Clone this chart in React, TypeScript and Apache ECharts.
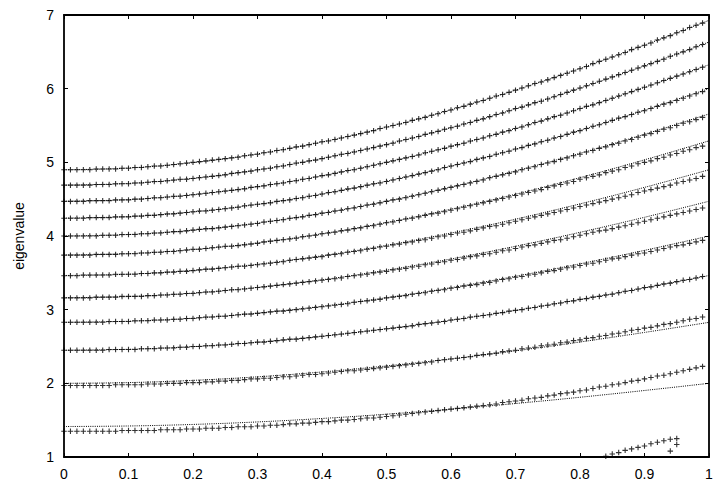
import React, { useEffect, useRef } from "react";
import * as echarts from "echarts";

// x positions of the numerical points (pluses)
const PLUS_X = [
  0, 0.01, 0.02, 0.03, 0.04, 0.05, 0.06, 0.07, 0.08, 0.09,
  0.1, 0.11, 0.12, 0.13, 0.14, 0.15, 0.16, 0.17, 0.18, 0.19,
  0.2, 0.21, 0.22, 0.23, 0.24, 0.25, 0.26, 0.27, 0.28, 0.29,
  0.3, 0.31, 0.32, 0.33, 0.34, 0.35, 0.36, 0.37, 0.38, 0.39,
  0.4, 0.41, 0.42, 0.43, 0.44, 0.45, 0.46, 0.47, 0.48, 0.49,
  0.5, 0.51, 0.52, 0.53, 0.54, 0.55, 0.56, 0.57, 0.58, 0.59,
  0.6, 0.61, 0.62, 0.63, 0.64, 0.65, 0.66, 0.67, 0.68, 0.69,
  0.7, 0.71, 0.72, 0.73, 0.74, 0.75, 0.76, 0.77, 0.78, 0.79,
  0.8, 0.81, 0.82, 0.83, 0.84, 0.85, 0.86, 0.87, 0.88, 0.89,
  0.9, 0.91, 0.92, 0.93, 0.94, 0.95, 0.96, 0.97, 0.98, 0.99,
];

const PLUS_1 = [
  1.35,1.35,1.35,1.35,1.35,1.35,1.35,1.35,1.35,1.36,
  1.36,1.36,1.36,1.36,1.36,1.37,1.37,1.37,1.37,1.38,
  1.38,1.38,1.39,1.39,1.39,1.40,1.40,1.41,1.41,1.41,
  1.42,1.42,1.43,1.43,1.44,1.45,1.45,1.46,1.46,1.47,
  1.48,1.48,1.49,1.50,1.50,1.51,1.52,1.53,1.53,1.54,
  1.55,1.56,1.57,1.58,1.59,1.60,1.61,1.62,1.63,1.64,
  1.65,1.66,1.67,1.68,1.69,1.70,1.71,1.72,1.74,1.75,
  1.76,1.77,1.79,1.80,1.81,1.83,1.84,1.86,1.87,1.88,
  1.90,1.91,1.93,1.95,1.96,1.98,1.99,2.01,2.03,2.04,
  2.06,2.08,2.10,2.11,2.13,2.15,2.17,2.19,2.21,2.23,
];
const PLUS_2 = [
  1.97,1.97,1.97,1.97,1.97,1.97,1.97,1.97,1.98,1.98,
  1.98,1.98,1.98,1.99,1.99,1.99,2.00,2.00,2.00,2.01,
  2.01,2.01,2.02,2.02,2.03,2.03,2.04,2.04,2.05,2.06,
  2.06,2.07,2.07,2.08,2.09,2.09,2.10,2.11,2.12,2.12,
  2.13,2.14,2.15,2.16,2.17,2.17,2.18,2.19,2.20,2.21,
  2.22,2.23,2.24,2.25,2.26,2.27,2.28,2.29,2.31,2.32,
  2.33,2.34,2.35,2.36,2.38,2.39,2.40,2.41,2.43,2.44,
  2.45,2.47,2.48,2.49,2.51,2.52,2.53,2.55,2.56,2.58,
  2.59,2.61,2.62,2.64,2.65,2.67,2.68,2.70,2.72,2.73,
  2.75,2.76,2.78,2.80,2.81,2.83,2.85,2.87,2.88,2.90,
];
const PLUS_3 = [
  2.45,2.45,2.45,2.45,2.45,2.45,2.45,2.46,2.46,2.46,
  2.46,2.46,2.47,2.47,2.47,2.48,2.48,2.48,2.49,2.49,
  2.50,2.50,2.51,2.51,2.52,2.52,2.53,2.54,2.54,2.55,
  2.56,2.56,2.57,2.58,2.59,2.60,2.60,2.61,2.62,2.63,
  2.64,2.65,2.66,2.67,2.68,2.69,2.70,2.71,2.72,2.73,
  2.74,2.75,2.76,2.77,2.78,2.80,2.81,2.82,2.83,2.84,
  2.86,2.87,2.88,2.90,2.91,2.92,2.93,2.95,2.96,2.98,
  2.99,3.00,3.02,3.03,3.05,3.06,3.08,3.09,3.11,3.12,
  3.14,3.15,3.17,3.18,3.20,3.21,3.23,3.25,3.26,3.28,
  3.30,3.31,3.33,3.35,3.36,3.38,3.40,3.41,3.43,3.45,
];
const PLUS_4 = [
  2.83,2.83,2.83,2.83,2.83,2.83,2.83,2.84,2.84,2.84,
  2.84,2.85,2.85,2.85,2.86,2.86,2.86,2.87,2.87,2.88,
  2.88,2.89,2.90,2.90,2.91,2.91,2.92,2.93,2.94,2.94,
  2.95,2.96,2.97,2.98,2.98,2.99,3.00,3.01,3.02,3.03,
  3.04,3.05,3.06,3.07,3.08,3.10,3.11,3.12,3.13,3.14,
  3.16,3.17,3.18,3.19,3.21,3.22,3.23,3.25,3.26,3.27,
  3.29,3.30,3.32,3.33,3.34,3.36,3.37,3.39,3.41,3.42,
  3.44,3.45,3.47,3.48,3.50,3.52,3.53,3.55,3.57,3.58,
  3.60,3.62,3.63,3.65,3.67,3.69,3.70,3.72,3.74,3.76,
  3.77,3.79,3.81,3.83,3.85,3.87,3.88,3.90,3.92,3.94,
];
const PLUS_5 = [
  3.16,3.16,3.16,3.16,3.16,3.17,3.17,3.17,3.17,3.18,
  3.18,3.18,3.18,3.19,3.19,3.20,3.20,3.21,3.21,3.22,
  3.22,3.23,3.24,3.24,3.25,3.26,3.27,3.27,3.28,3.29,
  3.30,3.31,3.32,3.33,3.34,3.35,3.36,3.37,3.38,3.39,
  3.40,3.41,3.42,3.43,3.45,3.46,3.47,3.48,3.50,3.51,
  3.52,3.54,3.55,3.56,3.58,3.59,3.61,3.62,3.64,3.65,
  3.67,3.68,3.70,3.72,3.73,3.75,3.76,3.78,3.80,3.81,
  3.83,3.85,3.87,3.88,3.90,3.92,3.94,3.95,3.97,3.99,
  4.01,4.03,4.05,4.07,4.08,4.10,4.12,4.14,4.16,4.18,
  4.20,4.22,4.24,4.26,4.28,4.30,4.32,4.34,4.36,4.38,
];
const PLUS_6 = [
  3.46,3.46,3.46,3.47,3.47,3.47,3.47,3.47,3.48,3.48,
  3.48,3.48,3.49,3.49,3.50,3.50,3.51,3.51,3.52,3.52,
  3.53,3.54,3.55,3.55,3.56,3.57,3.58,3.59,3.59,3.60,
  3.61,3.62,3.63,3.64,3.65,3.67,3.68,3.69,3.70,3.71,
  3.72,3.74,3.75,3.76,3.78,3.79,3.80,3.82,3.83,3.85,
  3.86,3.88,3.89,3.91,3.92,3.94,3.95,3.97,3.99,4.00,
  4.02,4.04,4.05,4.07,4.09,4.11,4.13,4.14,4.16,4.18,
  4.20,4.22,4.24,4.26,4.28,4.30,4.32,4.34,4.36,4.38,
  4.40,4.42,4.44,4.46,4.48,4.50,4.52,4.54,4.56,4.59,
  4.61,4.63,4.65,4.67,4.69,4.72,4.74,4.76,4.78,4.81,
];
const PLUS_7 = [
  3.74,3.74,3.74,3.74,3.74,3.75,3.75,3.75,3.75,3.76,
  3.76,3.76,3.77,3.77,3.78,3.78,3.79,3.79,3.80,3.81,
  3.82,3.82,3.83,3.84,3.85,3.86,3.86,3.87,3.88,3.89,
  3.90,3.92,3.93,3.94,3.95,3.96,3.97,3.99,4.00,4.01,
  4.03,4.04,4.05,4.07,4.08,4.10,4.11,4.13,4.14,4.16,
  4.18,4.19,4.21,4.23,4.24,4.26,4.28,4.30,4.31,4.33,
  4.35,4.37,4.39,4.41,4.43,4.45,4.47,4.49,4.51,4.53,
  4.55,4.57,4.59,4.61,4.63,4.66,4.68,4.70,4.72,4.74,
  4.77,4.79,4.81,4.83,4.86,4.88,4.90,4.93,4.95,4.98,
  5.00,5.02,5.05,5.07,5.10,5.12,5.15,5.17,5.20,5.22,
];
const PLUS_8 = [
  4.00,4.00,4.00,4.00,4.00,4.00,4.01,4.01,4.01,4.02,
  4.02,4.02,4.03,4.03,4.04,4.04,4.05,4.06,4.06,4.07,
  4.08,4.09,4.10,4.10,4.11,4.12,4.13,4.14,4.15,4.16,
  4.17,4.19,4.20,4.21,4.22,4.24,4.25,4.26,4.28,4.29,
  4.31,4.32,4.34,4.35,4.37,4.38,4.40,4.42,4.43,4.45,
  4.47,4.49,4.50,4.52,4.54,4.56,4.58,4.60,4.62,4.64,
  4.66,4.68,4.70,4.72,4.74,4.76,4.79,4.81,4.83,4.85,
  4.87,4.90,4.92,4.94,4.97,4.99,5.01,5.04,5.06,5.09,
  5.11,5.14,5.16,5.19,5.21,5.24,5.26,5.29,5.31,5.34,
  5.37,5.39,5.42,5.45,5.47,5.50,5.53,5.55,5.58,5.61,
];
const PLUS_9 = [
  4.24,4.24,4.24,4.24,4.25,4.25,4.25,4.25,4.26,4.26,
  4.26,4.27,4.27,4.28,4.28,4.29,4.30,4.30,4.31,4.32,
  4.33,4.34,4.34,4.35,4.36,4.37,4.38,4.39,4.41,4.42,
  4.43,4.44,4.45,4.47,4.48,4.49,4.51,4.52,4.54,4.55,
  4.57,4.59,4.60,4.62,4.64,4.65,4.67,4.69,4.71,4.72,
  4.74,4.76,4.78,4.80,4.82,4.84,4.86,4.88,4.90,4.93,
  4.95,4.97,4.99,5.01,5.04,5.06,5.08,5.11,5.13,5.15,
  5.18,5.20,5.23,5.25,5.28,5.30,5.33,5.35,5.38,5.41,
  5.43,5.46,5.49,5.51,5.54,5.57,5.60,5.62,5.65,5.68,
  5.70,5.73,5.76,5.79,5.81,5.84,5.87,5.90,5.93,5.96,
];
const PLUS_10 = [
  4.47,4.47,4.47,4.47,4.48,4.48,4.48,4.48,4.49,4.49,
  4.49,4.50,4.50,4.51,4.52,4.52,4.53,4.54,4.54,4.55,
  4.56,4.57,4.58,4.59,4.60,4.61,4.62,4.63,4.64,4.66,
  4.67,4.68,4.70,4.71,4.72,4.74,4.75,4.77,4.78,4.80,
  4.82,4.83,4.85,4.87,4.89,4.90,4.92,4.94,4.96,4.98,
  5.00,5.02,5.04,5.06,5.08,5.10,5.13,5.15,5.17,5.19,
  5.22,5.24,5.26,5.29,5.31,5.33,5.36,5.38,5.41,5.43,
  5.46,5.48,5.51,5.54,5.56,5.59,5.62,5.64,5.67,5.70,
  5.73,5.76,5.78,5.81,5.84,5.87,5.90,5.93,5.96,5.99,
  6.02,6.05,6.08,6.11,6.14,6.17,6.20,6.23,6.26,6.29,
];
const PLUS_11 = [
  4.69,4.69,4.69,4.69,4.69,4.70,4.70,4.70,4.71,4.71,
  4.71,4.72,4.72,4.73,4.74,4.74,4.75,4.76,4.77,4.77,
  4.78,4.79,4.80,4.81,4.82,4.83,4.85,4.86,4.87,4.88,
  4.90,4.91,4.92,4.94,4.95,4.97,4.99,5.00,5.02,5.03,
  5.05,5.07,5.09,5.11,5.12,5.14,5.16,5.18,5.20,5.22,
  5.24,5.26,5.29,5.31,5.33,5.35,5.38,5.40,5.42,5.45,
  5.47,5.49,5.52,5.54,5.57,5.59,5.62,5.65,5.67,5.70,
  5.73,5.75,5.78,5.81,5.83,5.86,5.89,5.92,5.95,5.98,
  6.01,6.04,6.07,6.10,6.13,6.16,6.19,6.22,6.25,6.28,
  6.31,6.34,6.37,6.40,6.44,6.47,6.50,6.53,6.57,6.60,
];
const PLUS_12 = [
  4.90,4.90,4.90,4.90,4.90,4.91,4.91,4.91,4.91,4.92,
  4.92,4.93,4.93,4.94,4.95,4.95,4.96,4.97,4.98,4.99,
  5.00,5.01,5.02,5.03,5.04,5.05,5.06,5.07,5.09,5.10,
  5.11,5.13,5.14,5.16,5.17,5.19,5.21,5.22,5.24,5.26,
  5.28,5.29,5.31,5.33,5.35,5.37,5.39,5.41,5.43,5.46,
  5.48,5.50,5.52,5.54,5.57,5.59,5.61,5.64,5.66,5.69,
  5.71,5.74,5.76,5.79,5.82,5.84,5.87,5.90,5.92,5.95,
  5.98,6.01,6.04,6.07,6.09,6.12,6.15,6.18,6.21,6.24,
  6.27,6.30,6.34,6.37,6.40,6.43,6.46,6.49,6.53,6.56,
  6.59,6.62,6.66,6.69,6.72,6.76,6.79,6.83,6.86,6.89,
];

// extra low branch of numerical points, bottom right
const EXTRA_X = [0.84, 0.85, 0.86, 0.87, 0.88, 0.89, 0.9, 0.91, 0.92, 0.93, 0.94, 0.95, 0.94, 0.95];
const EXTRA_Y = [1.01, 1.04, 1.06, 1.09, 1.11, 1.13, 1.15, 1.18, 1.2, 1.22, 1.24, 1.25, 1.08, 1.17];

// x positions of the analytic curves (dotted lines)
const LINE_X = [0, 0.1, 0.2, 0.3, 0.4, 0.5, 0.6, 0.7, 0.8, 0.9, 1];
const LINE_1 = [1.414, 1.421, 1.442, 1.476, 1.523, 1.581, 1.649, 1.726, 1.811, 1.903, 2.0];
const LINE_2 = [2.0, 2.01, 2.04, 2.088, 2.154, 2.236, 2.332, 2.441, 2.561, 2.691, 2.828];
const LINE_3 = [2.449, 2.462, 2.498, 2.557, 2.638, 2.739, 2.857, 2.99, 3.137, 3.295, 3.464];
const LINE_4 = [2.828, 2.843, 2.884, 2.953, 3.046, 3.162, 3.298, 3.453, 3.622, 3.805, 4.0];
const LINE_5 = [3.162, 3.178, 3.225, 3.302, 3.406, 3.536, 3.688, 3.86, 4.05, 4.254, 4.472];
const LINE_6 = [3.464, 3.481, 3.533, 3.617, 3.731, 3.873, 4.04, 4.228, 4.436, 4.66, 4.899];
const LINE_7 = [3.742, 3.76, 3.816, 3.906, 4.03, 4.183, 4.364, 4.567, 4.792, 5.034, 5.292];
const LINE_8 = [4.0, 4.02, 4.079, 4.176, 4.308, 4.472, 4.665, 4.883, 5.122, 5.381, 5.657];
const LINE_9 = [4.243, 4.264, 4.327, 4.429, 4.569, 4.743, 4.948, 5.179, 5.433, 5.708, 6.0];
const LINE_10 = [4.472, 4.494, 4.561, 4.669, 4.817, 5.0, 5.215, 5.459, 5.727, 6.017, 6.325];
const LINE_11 = [4.69, 4.714, 4.783, 4.897, 5.052, 5.244, 5.47, 5.725, 6.007, 6.31, 6.633];
const LINE_12 = [4.899, 4.923, 4.996, 5.115, 5.276, 5.477, 5.713, 5.98, 6.274, 6.591, 6.928];

const X_MIN = 0;
const X_MAX = 1;
const X_STEP = 0.1;
const Y_MIN = 1;
const Y_MAX = 7;
const Y_STEP = 1;
const Y_NAME = "eigenvalue";

const PLUS_SERIES = [PLUS_1, PLUS_2, PLUS_3, PLUS_4, PLUS_5, PLUS_6, PLUS_7, PLUS_8, PLUS_9, PLUS_10, PLUS_11, PLUS_12];
const LINE_SERIES = [LINE_1, LINE_2, LINE_3, LINE_4, LINE_5, LINE_6, LINE_7, LINE_8, LINE_9, LINE_10, LINE_11, LINE_12];

const PLUS_PATH = "path://M0,2.2H5.5V3.3H0Z M2.2,0H3.3V5.5H2.2Z";
const FONT = "'Liberation Sans', Arial, Helvetica, sans-serif";

export default function App() {
  const ref = useRef<HTMLDivElement>(null);

  useEffect(() => {
    if (!ref.current) return;
    const chart = echarts.init(ref.current, null, { renderer: "svg" });

    const axisLine = { show: true, onZero: false, lineStyle: { color: "#000", width: 1.8 } };
    const axisTick = { show: true, inside: true, length: 4, lineStyle: { color: "#000", width: 1 } };

    const series: any[] = [];
    LINE_SERIES.forEach((ys, k) => {
      series.push({
        type: "line",
        name: "curve" + (k + 1),
        data: LINE_X.map((x, i) => [x, ys[i]]),
        showSymbol: false,
        smooth: 0.4,
        silent: true,
        lineStyle: { color: "#000", width: 1, type: [1, 1.2] },
        z: 2,
      });
    });
    PLUS_SERIES.forEach((ys, k) => {
      series.push({
        type: "scatter",
        name: "points" + (k + 1),
        data: PLUS_X.map((x, i) => [x, ys[i]]),
        symbol: PLUS_PATH,
        symbolSize: 5.5,
        silent: true,
        itemStyle: { color: "#000" },
        z: 3,
      });
    });
    series.push({
      type: "scatter",
      name: "extra",
      data: EXTRA_X.map((x, i) => [x, EXTRA_Y[i]]),
      symbol: PLUS_PATH,
      symbolSize: 5.5,
      silent: true,
      itemStyle: { color: "#000" },
      z: 3,
    });

    chart.setOption({
      animation: false,
      backgroundColor: "#fff",
      grid: { left: 64, right: 14, top: 15, bottom: 34 },
      xAxis: [
        {
          type: "value",
          min: X_MIN,
          max: X_MAX,
          interval: X_STEP,
          position: "bottom",
          axisLine,
          axisTick,
          splitLine: { show: false },
          axisLabel: {
            color: "#000",
            fontFamily: FONT,
            fontSize: 14,
            margin: 10,
            formatter: (v: number) => String(Math.round(v * 10) / 10),
          },
        },
        {
          type: "value",
          min: X_MIN,
          max: X_MAX,
          interval: X_STEP,
          position: "top",
          axisLine,
          axisTick,
          splitLine: { show: false },
          axisLabel: { show: false },
        },
      ],
      yAxis: [
        {
          type: "value",
          min: Y_MIN,
          max: Y_MAX,
          interval: Y_STEP,
          position: "left",
          name: Y_NAME,
          nameLocation: "middle",
          nameGap: 38,
          nameTextStyle: { color: "#000", fontFamily: FONT, fontSize: 14 },
          axisLine,
          axisTick,
          splitLine: { show: false },
          axisLabel: { color: "#000", fontFamily: FONT, fontSize: 14, margin: 10 },
        },
        {
          type: "value",
          min: Y_MIN,
          max: Y_MAX,
          interval: Y_STEP,
          position: "right",
          axisLine,
          axisTick,
          splitLine: { show: false },
          axisLabel: { show: false },
        },
      ],
      series,
    });

    return () => chart.dispose();
  }, []);

  return (
    <div
      ref={ref}
      style={{ position: "absolute", left: 0, top: 0, width: 723, height: 491, background: "#fff" }}
    />
  );
}
